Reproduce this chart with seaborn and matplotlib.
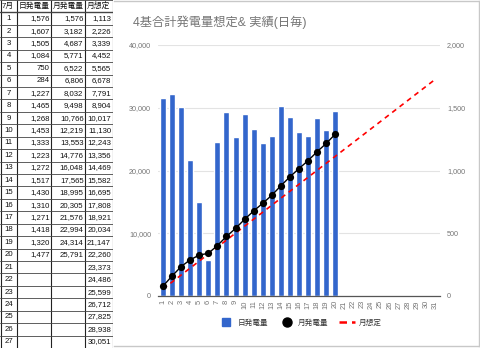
import numpy as np
import pandas as pd
import matplotlib
matplotlib.use("Agg")
import matplotlib.pyplot as plt
from matplotlib.lines import Line2D
import seaborn as sns

sns.set_theme(style="white")
plt.rcParams["font.family"] = ["Liberation Sans", "Noto Sans CJK JP", "DejaVu Sans"]

# ---- data -------------------------------------------------------------
days = list(range(1, 32))
daily_gen = [1576, 1607, 1505, 1084, 750, 284, 1227, 1465, 1268, 1453,
             1333, 1223, 1272, 1517, 1430, 1310, 1271, 1418, 1320, 1477]
monthly_gen = [1576, 3182, 4687, 5771, 6522, 6806, 8032, 9498, 10766, 12219,
               13553, 14776, 16048, 17565, 18995, 20305, 21576, 22994, 24314, 25791]
monthly_plan = [1113, 2226, 3339, 4452, 5565, 6678, 7791, 8904, 10017, 11130,
                12243, 13356, 14469, 15582, 16695, 17808, 18921, 20034, 21147, 22260,
                23373, 24486, 25599, 26712, 27825, 28938, 30051, 31164, 32277, 33390,
                34503]
table_rows = 27
title = "4基合計発電量想定& 実績(日毎)"
col_headers = ["7月", "日発電量", "月発電量", "月想定"]
left_ticks = [0, 10000, 20000, 30000, 40000]
right_ticks = [0, 500, 1000, 1500, 2000]

BLUE = "#3366cc"
RED = "#ff0000"
GRAY = "#757575"

W, H = 480, 348
fig = plt.figure(figsize=(W / 100, H / 100), dpi=100)

# ---- table on the left ------------------------------------------------
tab = fig.add_axes([0, 0, 113 / W, 1])
tab.set_xlim(0, 113)
tab.set_ylim(H, 0)
tab.axis("off")
col_edges = [0.5, 17, 51, 85, 112.5]
row_h = H / 28.0
for x in col_edges:
    tab.plot([x, x], [0, H], color="#222222", lw=0.8, solid_capstyle="butt")
for r in range(29):
    y = r * row_h
    tab.plot([0, 113], [y, y], color="#444444", lw=0.6 if r != 1 else 1.0)

fs_tab = 5.6
for c, name in enumerate(col_headers):
    tab.text(col_edges[c] + 1.5, row_h * 0.5, name, ha="left", va="center",
             fontsize=fs_tab, color="#111111")

for i in range(table_rows):
    yc = (i + 1.5) * row_h
    tab.text((col_edges[0] + col_edges[1]) / 2, yc, str(i + 1), ha="center",
             va="center", fontsize=fs_tab, color="#111111")
    if i < len(daily_gen):
        tab.text(col_edges[2] - 1.5, yc, f"{daily_gen[i]:,}", ha="right",
                 va="center", fontsize=fs_tab, color="#111111")
        tab.text(col_edges[3] - 1.5, yc, f"{monthly_gen[i]:,}", ha="right",
                 va="center", fontsize=fs_tab, color="#111111")
    tab.text(col_edges[4] - 1.5, yc, f"{monthly_plan[i]:,}", ha="right",
             va="center", fontsize=fs_tab, color="#111111")

# chart frame
frame = fig.add_axes([114 / W, 2 / H, (479 - 114) / W, (347 - 2) / H])
frame.set_xticks([])
frame.set_yticks([])
frame.patch.set_alpha(0)
frame.spines["left"].set_visible(False)
for s in ["top", "right", "bottom"]:
    frame.spines[s].set_color("#c8c8c8")
    frame.spines[s].set_linewidth(1.0)

# ---- chart ------------------------------------------------------------
left, right, bottom, top = 158, 440, 296, 45
ax = fig.add_axes([left / W, 1 - bottom / H, (right - left) / W, (bottom - top) / H])

# daily bars on the right-hand scale
bars_df = pd.DataFrame({"day": days[:len(daily_gen)], "gen": daily_gen})
sns.barplot(data=bars_df, x="day", y="gen", native_scale=True, width=0.66,
            color=BLUE, saturation=1, ax=ax, zorder=2)
ax.set_ylim(0, 2000)
ax.set_xlim(0.45, 31.55)
ax.grid(axis="y", color="#e3e3e3", lw=0.8, zorder=0)
ax.set_axisbelow(True)

# cumulative lines on the left-hand scale, drawn above the bars
ax2 = ax.twinx()
line_df = pd.DataFrame({"day": days[:len(monthly_gen)], "gen": monthly_gen})
plan_df = pd.DataFrame({"day": days, "plan": monthly_plan})
sns.lineplot(data=plan_df, x="day", y="plan", color=RED, lw=1.2,
             dashes=False, ax=ax2, zorder=3)
ax2.lines[0].set_dashes([3, 2.6])
sns.lineplot(data=line_df, x="day", y="gen", color="black", lw=1.0,
             marker="o", markersize=5.2, markeredgewidth=0, ax=ax2, zorder=4)
ax2.set_ylim(0, 40000)
ax2.set_xlim(0.45, 31.55)

ax.yaxis.set_ticks_position("right")
ax.yaxis.set_label_position("right")
ax.set_yticks(right_ticks)
ax.set_yticklabels([f"{v:,}" for v in right_ticks])
ax.tick_params(axis="y", left=False, labelleft=False, right=False, labelright=True)

ax2.yaxis.set_ticks_position("left")
ax2.set_yticks(left_ticks)
ax2.set_yticklabels([f"{v:,}" for v in left_ticks])
ax2.tick_params(axis="y", left=False, labelleft=True, right=False, labelright=False)

for a in (ax, ax2):
    a.set_xlabel("")
    a.set_ylabel("")
    for s in a.spines.values():
        s.set_visible(False)
    a.tick_params(axis="y", length=0, labelsize=5.2, labelcolor=GRAY, pad=5)
ax.spines["bottom"].set_visible(True)
ax.spines["bottom"].set_color("#555555")
ax.spines["bottom"].set_linewidth(0.9)
ax.set_xticks(days)
ax.set_xticklabels([str(d) for d in days], rotation=90)
ax.tick_params(axis="x", length=0, labelsize=5.4, labelcolor=GRAY, pad=3)

fig.text(133 / W, 1 - 22 / H, title, fontsize=8.8, color=GRAY,
         ha="left", va="center")

handles = [
    Line2D([], [], linestyle="none", marker="s", markersize=6, color=BLUE),
    Line2D([], [], linestyle="none", marker="o", markersize=6.5, color="black"),
    Line2D([], [], linestyle=(0, (3, 2)), lw=1.8, color=RED),
]
fig.legend(handles, ["日発電量", "月発電量", "月想定"], loc="center",
           bbox_to_anchor=(300 / W, 1 - 323 / H), ncol=3, frameon=False,
           fontsize=5.5, handlelength=2.0, columnspacing=1.4, handletextpad=0.5,
           labelcolor="#333333")

fig.savefig("out.png", dpi=100)
